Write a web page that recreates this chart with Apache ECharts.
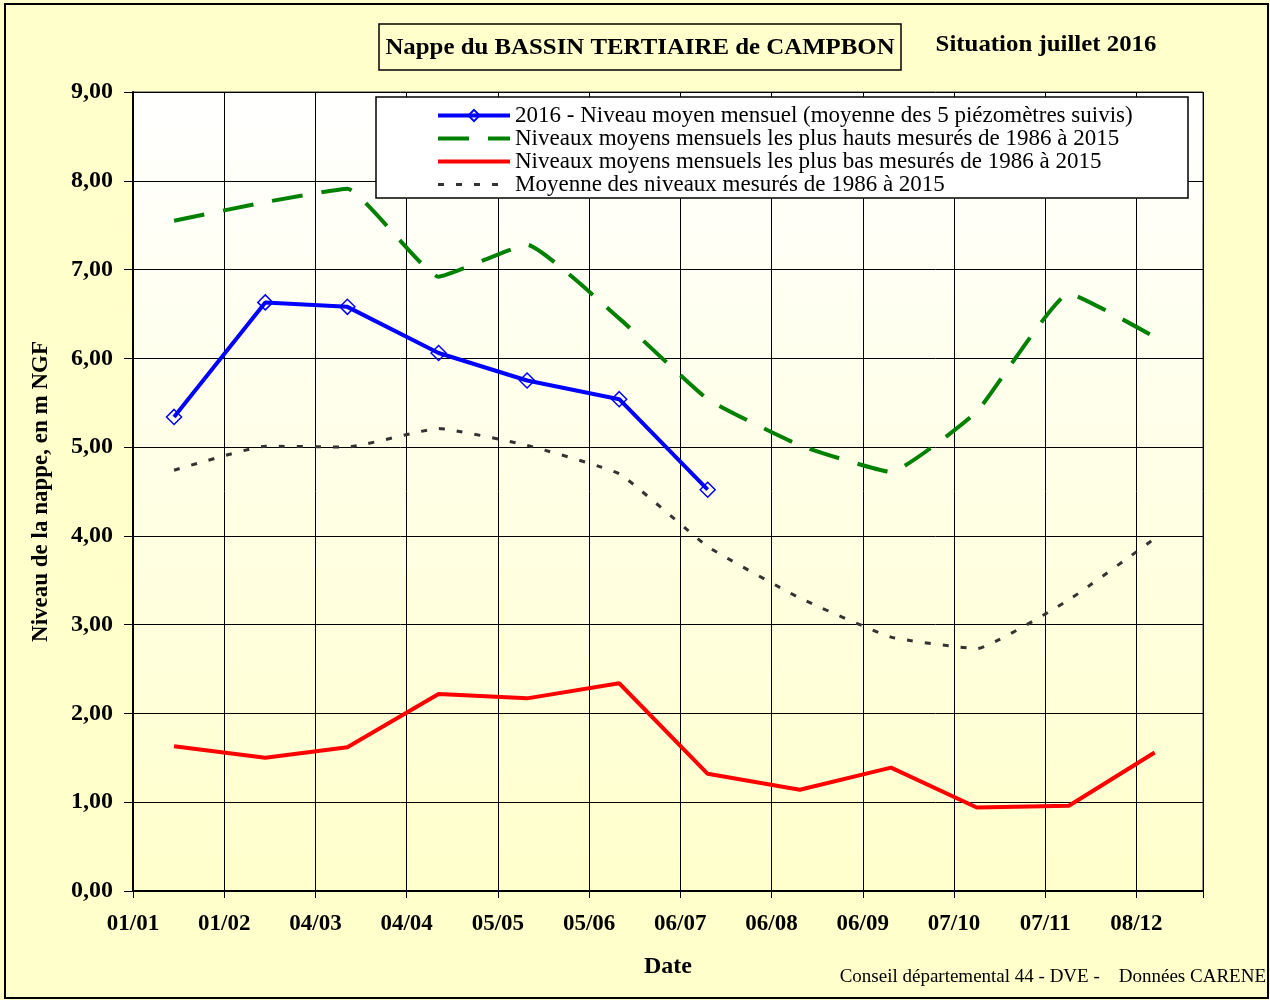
<!DOCTYPE html>
<html>
<head>
<meta charset="utf-8">
<title>Nappe du BASSIN TERTIAIRE de CAMPBON</title>
<script src="https://cdn.jsdelivr.net/npm/echarts@6/dist/echarts.min.js"></script>
<style>
  html, body { margin: 0; padding: 0; background: #ffffcc; }
  #chart { width: 1270px; height: 1000px; }
</style>
</head>
<body>
<div id="chart"></div>
<script>
// position des mesures (en mois depuis le 01/01) et libelles de l'axe des dates
var monthPos = [0.45, 1.45, 2.35, 3.35, 4.32, 5.33, 6.30, 7.31, 8.31, 9.25, 10.26, 11.20];
var dateLabels = ['01/01', '01/02', '04/03', '04/04', '05/05', '05/06', '06/07', '06/08', '06/09', '07/10', '07/11', '08/12'];

// niveaux en m NGF
var niveau2016 = [5.34, 6.63, 6.58, 6.06, 5.75, 5.54, 4.52];
var niveauxHauts = [7.55, 7.76, 7.91, 6.92, 7.28, 6.45, 5.54, 5.02, 4.72, 5.40, 6.73, 6.24];
var niveauxBas = [1.63, 1.50, 1.62, 2.22, 2.17, 2.34, 1.32, 1.14, 1.39, 0.94, 0.96, 1.56];
var moyenne = [4.74, 5.01, 5.00, 5.21, 5.02, 4.70, 3.88, 3.30, 2.86, 2.73, 3.28, 3.97];

var seriesNames = [
  '2016 - Niveau moyen mensuel (moyenne des 5 piézomètres suivis)',
  'Niveaux moyens mensuels les plus hauts mesurés de 1986 à 2015',
  'Niveaux moyens mensuels les plus bas mesurés de 1986 à 2015',
  'Moyenne des niveaux mesurés de 1986 à 2015'
];

var serif = '"Liberation Serif", "Times New Roman", serif';
var noSymbol = {color: 'rgba(0,0,0,0)', borderWidth: 0};

function pairs (values) {
  return values.map(function (v, i) { return [monthPos[i], v]; });
}

var myChart = echarts.init(document.getElementById('chart'));

var option = {
  backgroundColor: '#ffffcc',
  animation: false,
  grid: {
    left: 133, top: 92, width: 1070, height: 799,
    show: true,
    borderColor: '#333',
    borderWidth: 1,
    backgroundColor: new echarts.graphic.LinearGradient(0, 0, 0, 1, [
      {offset: 0, color: '#ffffff'},
      {offset: 1, color: '#ffffcc'}
    ])
  },
  xAxis: {
    type: 'value',
    min: 0,
    max: 11.73,
    interval: 1,
    name: 'Date',
    nameLocation: 'middle',
    nameGap: 64,
    nameTextStyle: {fontFamily: serif, fontWeight: 'bold', fontSize: 24, color: '#000'},
    axisLine: {lineStyle: {color: '#000', width: 2}},
    axisTick: {show: true, length: 7, lineStyle: {color: '#000'}},
    axisLabel: {
      margin: 22,
      fontFamily: serif, fontWeight: 'bold', fontSize: 23, color: '#000',
      formatter: function (v) {
        return Number.isInteger(v) ? (dateLabels[v] || '') : '';
      }
    },
    splitLine: {show: true, lineStyle: {color: '#000', width: 1}}
  },
  yAxis: {
    type: 'value',
    min: 0,
    max: 9,
    interval: 1,
    name: 'Niveau de la nappe, en m NGF',
    nameLocation: 'middle',
    nameGap: 80,
    nameTextStyle: {fontFamily: serif, fontWeight: 'bold', fontSize: 23, color: '#000'},
    axisLine: {show: true, lineStyle: {color: '#000', width: 2}},
    axisTick: {show: true, length: 9, lineStyle: {color: '#000'}},
    axisLabel: {
      margin: 20,
      fontFamily: serif, fontWeight: 'bold', fontSize: 24, color: '#000',
      formatter: function (v) { return v.toFixed(2).replace('.', ','); }
    },
    splitLine: {show: true, lineStyle: {color: '#000', width: 1}}
  },
  legend: {
    orient: 'vertical',
    left: 436,
    top: 104,
    z: 10,
    itemWidth: 72,
    itemHeight: 14,
    itemGap: 0,
    padding: 0,
    selectedMode: false,
    textStyle: {fontFamily: serif, fontSize: 23, color: '#000', lineHeight: 20},
    data: [
      {name: seriesNames[0], lineStyle: {width: 4}},
      {name: seriesNames[1], lineStyle: {width: 4}, itemStyle: noSymbol},
      {name: seriesNames[2], lineStyle: {width: 4}, itemStyle: noSymbol},
      {name: seriesNames[3], lineStyle: {width: 3}, itemStyle: noSymbol}
    ]
  },
  graphic: [
    // cadre exterieur
    {type: 'rect', shape: {x: 5, y: 4, width: 1263, height: 994}, style: {fill: null, stroke: '#000', lineWidth: 2}, z: 0, silent: true},
    // titre
    {type: 'rect', shape: {x: 379, y: 24, width: 522, height: 46}, style: {fill: '#ffffcc', stroke: '#000', lineWidth: 1.5}, z: 1},
    {type: 'text', x: 640, y: 48, scaleX: 1.08, style: {text: 'Nappe du BASSIN TERTIAIRE de CAMPBON', font: 'bold 23px ' + serif, fill: '#000', align: 'center', verticalAlign: 'middle'}, z: 2},
    {type: 'text', x: 1046, y: 45, scaleX: 1.08, style: {text: 'Situation juillet 2016', font: 'bold 23px ' + serif, fill: '#000', align: 'center', verticalAlign: 'middle'}, z: 2},
    // cadre de la legende
    {type: 'rect', shape: {x: 376, y: 97, width: 812, height: 101}, style: {fill: '#fff', stroke: '#000', lineWidth: 1.5}, z: 9},
    // source
    {type: 'text', x: 1266, y: 977, style: {text: 'Conseil départemental 44 - DVE -    Données CARENE', font: '19px ' + serif, fill: '#000', align: 'right', verticalAlign: 'middle'}, z: 2}
  ],
  series: [
    {
      name: seriesNames[0],
      type: 'line',
      data: pairs(niveau2016),
      symbol: 'diamond',
      symbolSize: 15,
      z: 5,
      lineStyle: {color: '#0000ff', width: 4},
      itemStyle: {color: 'rgba(0,0,0,0)', borderColor: '#0000ff', borderWidth: 1.5}
    },
    {
      name: seriesNames[1],
      type: 'line',
      data: pairs(niveauxHauts),
      symbol: 'none',
      smooth: 0.12,
      z: 4,
      lineStyle: {color: '#008000', width: 4, type: [31, 19]},
      itemStyle: {color: '#008000'}
    },
    {
      name: seriesNames[2],
      type: 'line',
      data: pairs(niveauxBas),
      symbol: 'none',
      z: 4,
      lineStyle: {color: '#ff0000', width: 4},
      itemStyle: {color: '#ff0000'}
    },
    {
      name: seriesNames[3],
      type: 'line',
      data: pairs(moyenne),
      symbol: 'none',
      smooth: 0.12,
      z: 3,
      lineStyle: {color: '#333333', width: 3, type: [6, 12]},
      itemStyle: {color: '#333333'}
    }
  ]
};

myChart.setOption(option);
</script>
</body>
</html>
